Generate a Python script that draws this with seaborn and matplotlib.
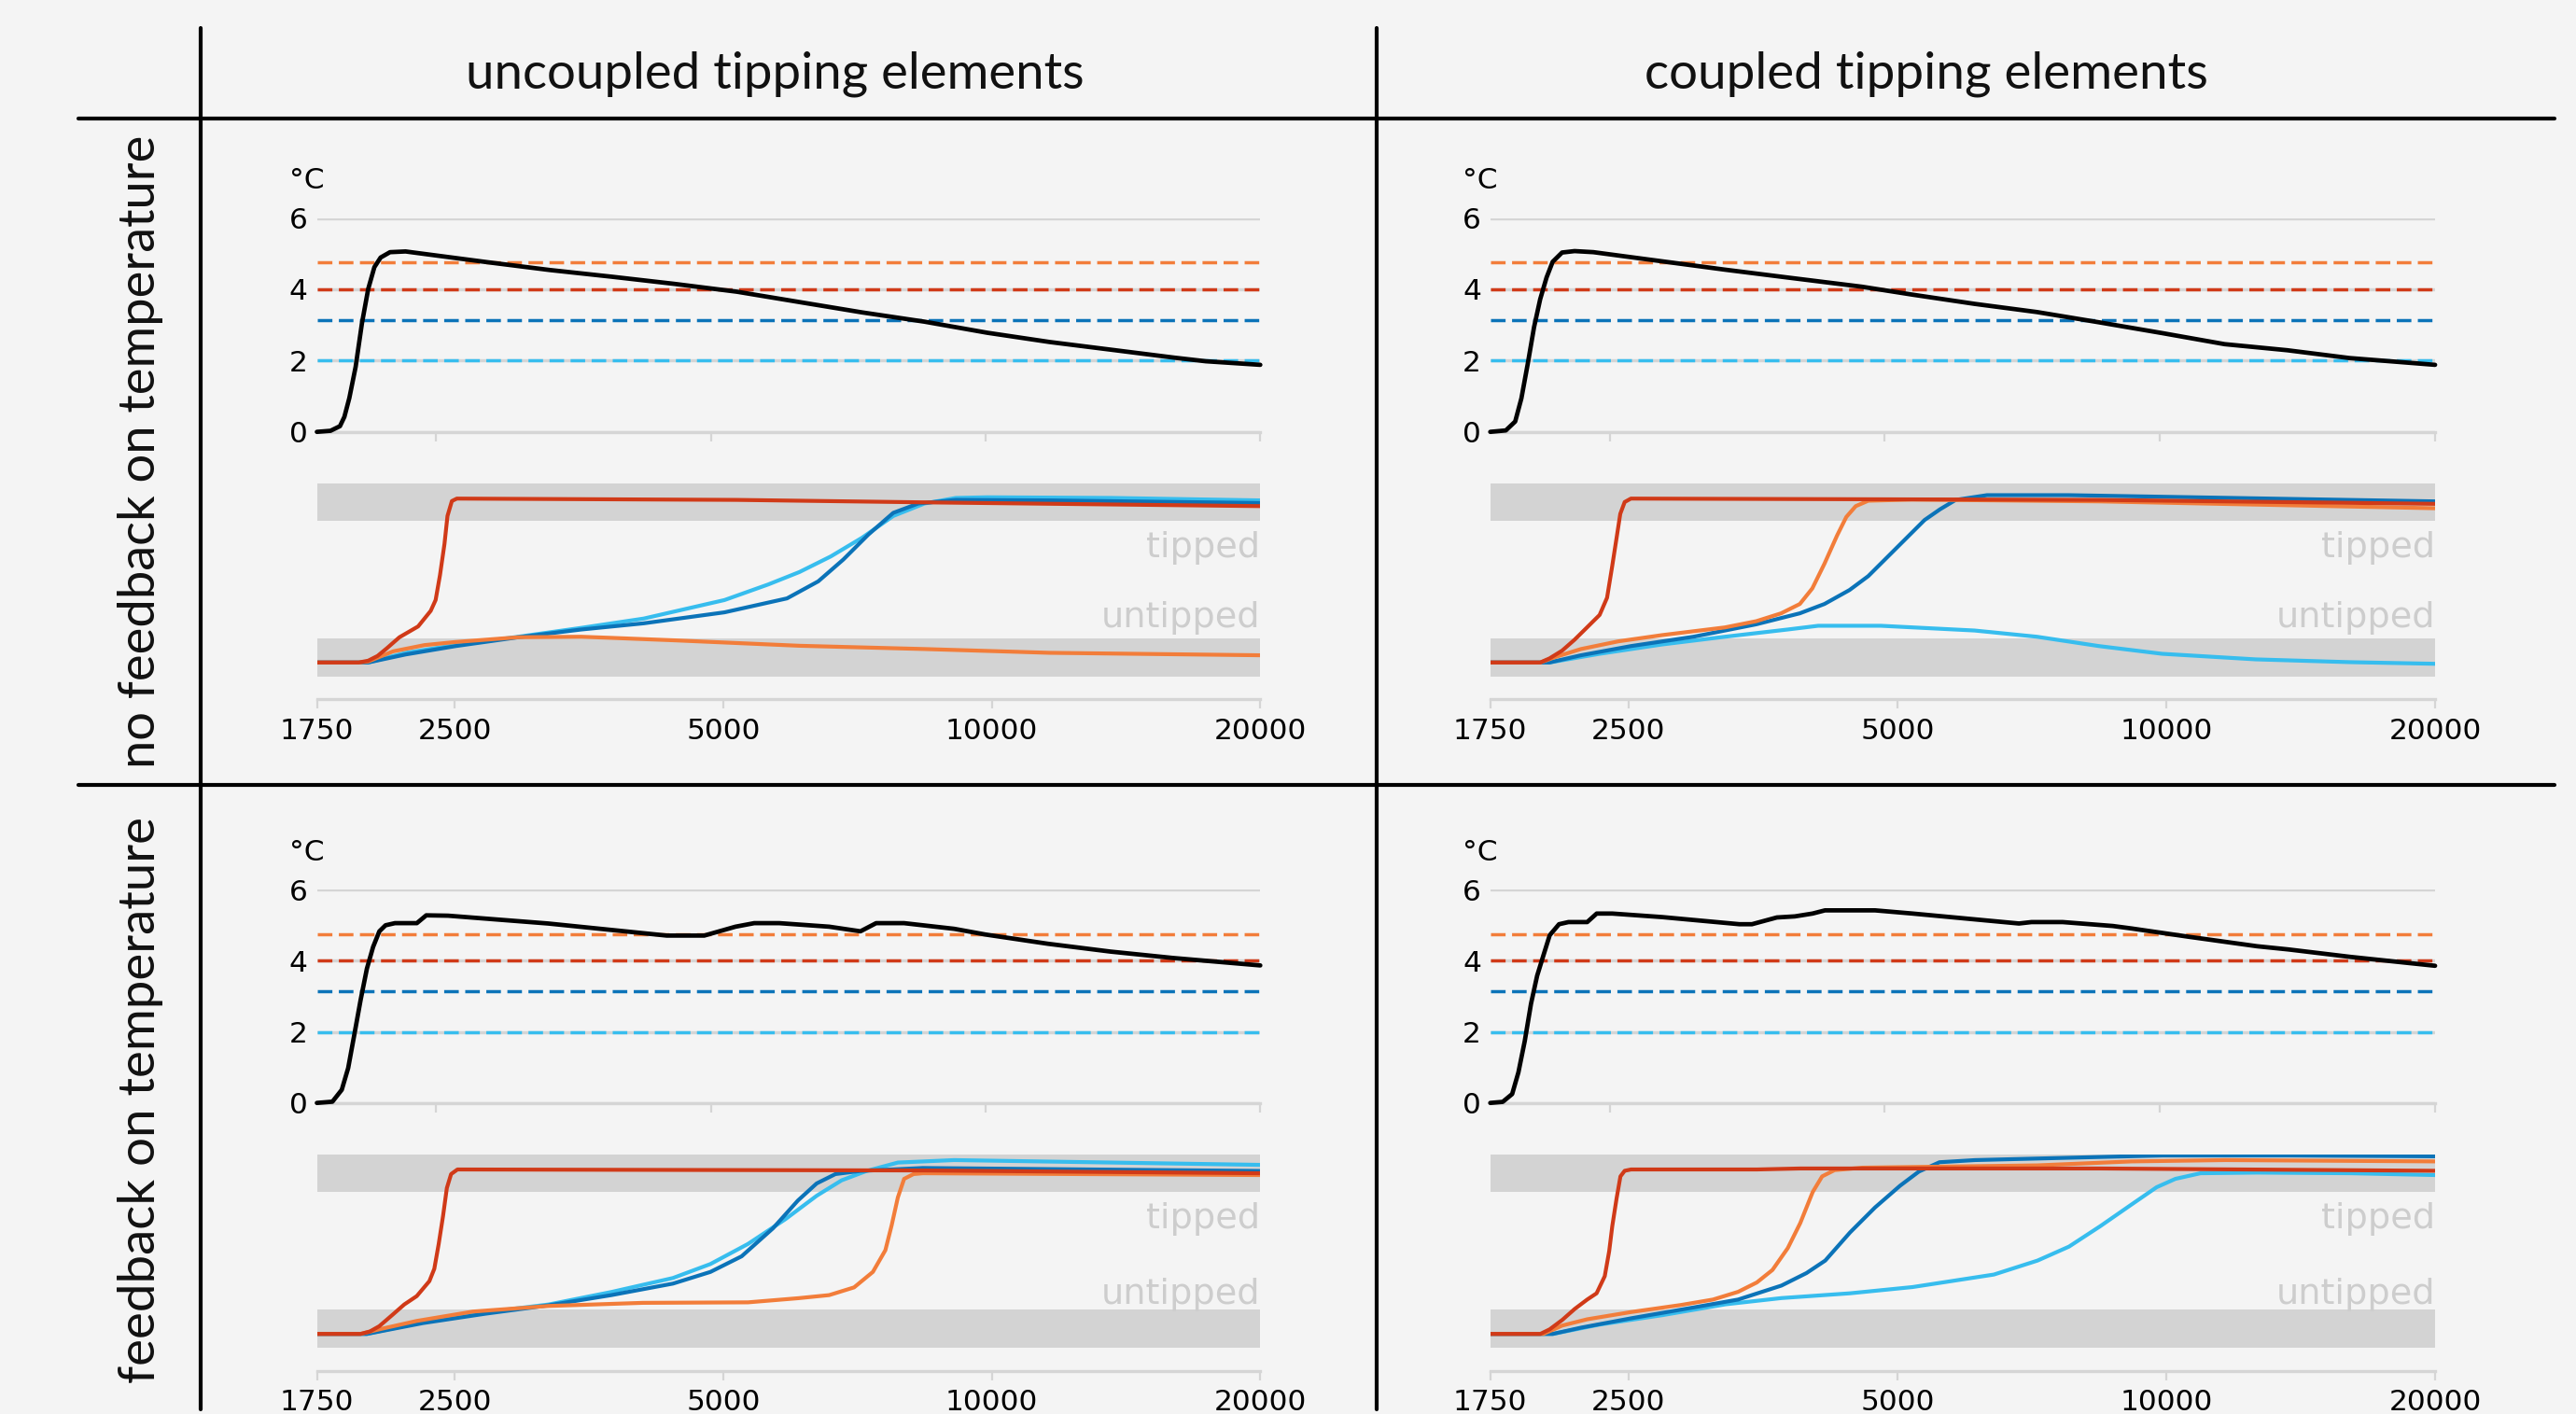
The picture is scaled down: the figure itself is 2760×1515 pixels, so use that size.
import matplotlib
matplotlib.use("Agg")
import matplotlib.pyplot as plt
import numpy as np
import pandas as pd
import seaborn as sns
from matplotlib.lines import Line2D

# ---------------------------------------------------------------- data
THRESHOLDS = [4.75, 4.0, 3.14, 2.0]          # orange, red, dark blue, light blue
THRESH_KEYS = ["orange", "red", "dark blue", "light blue"]

COL_TITLES = ["uncoupled tipping elements", "coupled tipping elements"]
ROW_TITLES = ["no feedback on temperature", "feedback on temperature"]
TIP_TICKS = [1750, 2500, 5000, 10000, 20000]
TIP_TICK_LABELS = ["1750", "2500", "5000", "10000", "20000"]
TEMP_TICKS = [0, 2, 4, 6]

# temperature, no feedback, uncoupled
T_NU_YEAR = [1850, 1915, 1961, 1983, 2008, 2040, 2073, 2106, 2139, 2173, 2225, 2314, 2427, 2842,
             3328, 3898, 4562, 5341, 6253, 7324, 8573, 10040, 11754, 13765, 16110, 17430, 20000]
T_NU_VAL = [0, 0.03, 0.16, 0.42, 0.95, 1.82, 3.05, 4.01, 4.62, 4.89, 5.04, 5.06, 4.99, 4.76,
            4.54, 4.35, 4.15, 3.93, 3.64, 3.35, 3.09, 2.78, 2.52, 2.30, 2.08, 1.98, 1.88]
# temperature, no feedback, coupled
T_NC_YEAR = [1850, 1924, 1970, 2001, 2033, 2066, 2098, 2132, 2165, 2217, 2288, 2399, 2636, 3340,
             3910, 4721, 5355, 6268, 7336, 8588, 10055, 11767, 13774, 16120, 20000]
T_NC_VAL = [0, 0.04, 0.29, 0.94, 1.9, 2.94, 3.72, 4.33, 4.77, 5.03, 5.07, 5.04, 4.9, 4.55,
            4.33, 4.07, 3.85, 3.59, 3.36, 3.07, 2.77, 2.46, 2.29, 2.07, 1.88]
# temperature, feedback, uncoupled
T_FU_YEAR = [1850, 1924, 1970, 2002, 2034, 2066, 2099, 2132, 2166, 2200, 2253, 2381, 2438, 2576,
             3316, 4473, 4917, 5320, 5578, 5941, 6740, 7292, 7587, 8140, 9240, 9996, 11700,
             13700, 16040, 20000]
T_FU_VAL = [0, 0.035, 0.37, 0.98, 1.94, 2.9, 3.78, 4.39, 4.83, 5.0, 5.06, 5.06, 5.28, 5.27,
            5.05, 4.71, 4.71, 4.96, 5.06, 5.06, 4.96, 4.83, 5.06, 5.06, 4.9, 4.74, 4.48,
            4.26, 4.08, 3.87]
# temperature, feedback, coupled
T_FC_YEAR = [1850, 1909, 1955, 1986, 2018, 2050, 2082, 2115, 2149, 2200, 2253, 2362, 2419, 2516,
             2854, 3466, 3577, 3809, 3985, 4167, 4300, 4878, 5362, 7010, 7235, 7826, 8880,
             9310, 10730, 12770, 13820, 16160, 20000]
T_FC_VAL = [0, 0.03, 0.25, 0.86, 1.74, 2.79, 3.58, 4.15, 4.72, 5.03, 5.09, 5.09, 5.33, 5.33,
            5.23, 5.03, 5.03, 5.22, 5.25, 5.33, 5.42, 5.42, 5.33, 5.05, 5.09, 5.09, 4.98,
            4.91, 4.68, 4.41, 4.32, 4.11, 3.86]

# tipping state (0 = untipped, 1 = tipped) -- no feedback, uncoupled
NU_RED_YEAR = [1750, 1950, 1998, 2047, 2097, 2166, 2273, 2348, 2378, 2405, 2433, 2452, 2480, 2512, 5178, 8404, 20000]
NU_RED_VAL = [0, 0, 0.011, 0.04, 0.087, 0.154, 0.22, 0.315, 0.381, 0.533, 0.723, 0.894, 0.985, 1.0, 0.992, 0.977, 0.954]
NU_LBLUE_YEAR = [1750, 1998, 2201, 2504, 2944, 3462, 4070, 5014, 5613, 6085, 6597, 7152, 7753, 8404, 9111, 9878, 13642, 20000]
NU_LBLUE_VAL = [0, 0, 0.059, 0.106, 0.157, 0.211, 0.268, 0.381, 0.476, 0.552, 0.647, 0.761, 0.894, 0.97, 1.004, 1.008, 1.004, 0.989]
NU_DBLUE_YEAR = [1750, 1998, 2201, 2504, 2944, 3462, 4070, 5014, 5892, 6387, 6814, 7268, 7753, 8270, 9111, 11608, 20000]
NU_DBLUE_VAL = [0, 0, 0.049, 0.1, 0.154, 0.201, 0.239, 0.306, 0.391, 0.495, 0.628, 0.78, 0.913, 0.97, 0.992, 0.989, 0.973]
NU_ORANGE_YEAR = [1750, 1950, 1998, 2131, 2310, 2504, 2944, 3462, 3754, 4414, 6085, 8404, 11608, 20000]
NU_ORANGE_VAL = [0, 0, 0.006, 0.068, 0.106, 0.125, 0.154, 0.157, 0.15, 0.135, 0.102, 0.082, 0.059, 0.044]

# no feedback, coupled
NC_RED_YEAR = [1750, 1991, 2039, 2106, 2175, 2246, 2320, 2365, 2396, 2423, 2447, 2475, 2515, 8410, 20000]
NC_RED_VAL = [0, 0, 0.025, 0.072, 0.139, 0.214, 0.29, 0.395, 0.584, 0.755, 0.907, 0.979, 1.0, 0.992, 0.968]
NC_ORANGE_YEAR = [1750, 1991, 2072, 2211, 2435, 2726, 3205, 3475, 3705, 3888, 4015, 4143, 4279, 4383, 4491, 4638, 5192, 8410, 20000]
NC_ORANGE_VAL = [0, 0, 0.034, 0.082, 0.129, 0.167, 0.214, 0.252, 0.3, 0.357, 0.452, 0.603, 0.774, 0.888, 0.954, 0.987, 0.994, 0.983, 0.941]
NC_DBLUE_YEAR = [1750, 2039, 2211, 2515, 2955, 3475, 3888, 4143, 4419, 4638, 4868, 5109, 5362, 5582, 5811, 6300, 7768, 20000]
NC_DBLUE_VAL = [0, 0, 0.044, 0.1, 0.157, 0.233, 0.3, 0.357, 0.442, 0.527, 0.641, 0.755, 0.869, 0.935, 0.992, 1.021, 1.021, 0.983]
NC_LBLUE_YEAR = [1750, 2039, 2320, 2726, 3205, 3765, 4077, 4790, 6101, 7166, 8410, 9893, 12596, 16044, 20000]
NC_LBLUE_VAL = [0, 0, 0.053, 0.11, 0.157, 0.201, 0.224, 0.224, 0.195, 0.157, 0.1, 0.053, 0.019, 0.002, -0.008]

# feedback, uncoupled
FU_RED_YEAR = [1750, 1959, 2007, 2056, 2124, 2193, 2265, 2340, 2370, 2397, 2424, 2448, 2475, 2516, 8369, 20000]
FU_RED_VAL = [0, 0, 0.015, 0.047, 0.113, 0.179, 0.23, 0.321, 0.396, 0.547, 0.717, 0.887, 0.972, 1.0, 0.994, 0.977]
FU_ORANGE_YEAR = [1750, 1959, 2056, 2265, 2619, 3184, 4060, 5327, 6060, 6570, 7007, 7355, 7596, 7720, 7845, 7973, 8169, 8369, 20000]
FU_ORANGE_VAL = [0, 0, 0.028, 0.079, 0.136, 0.17, 0.189, 0.192, 0.217, 0.236, 0.283, 0.377, 0.509, 0.66, 0.83, 0.943, 0.972, 0.977, 0.966]
FU_DBLUE_YEAR = [1750, 1991, 2302, 2705, 3184, 3744, 4389, 4835, 5241, 5682, 6060, 6361, 6677, 7122, 8369, 20000]
FU_DBLUE_VAL = [0, 0, 0.066, 0.123, 0.174, 0.236, 0.306, 0.377, 0.472, 0.642, 0.811, 0.915, 0.972, 0.991, 1.009, 0.991]
FU_LBLUE_YEAR = [1750, 1991, 2302, 2705, 3184, 3744, 4389, 4835, 5327, 5869, 6361, 6785, 7237, 7845, 9072, 20000]
FU_LBLUE_VAL = [0, 0, 0.072, 0.132, 0.179, 0.255, 0.34, 0.425, 0.547, 0.698, 0.84, 0.934, 0.991, 1.042, 1.057, 1.028]

# feedback, coupled
FC_RED_YEAR = [1750, 1991, 2040, 2107, 2176, 2247, 2302, 2351, 2378, 2397, 2424, 2448, 2475, 2516, 3480, 3892, 8435, 20000]
FC_RED_VAL = [0, 0, 0.028, 0.085, 0.152, 0.209, 0.247, 0.351, 0.503, 0.655, 0.825, 0.958, 0.992, 1.0, 1.0, 1.006, 1.006, 0.992]
FC_ORANGE_YEAR = [1750, 2007, 2107, 2247, 2516, 2862, 3108, 3316, 3480, 3623, 3769, 3892, 4019, 4118, 4252, 4570, 7176, 9144, 11651, 20000]
FC_ORANGE_VAL = [0, 0, 0.051, 0.089, 0.133, 0.176, 0.209, 0.256, 0.313, 0.389, 0.522, 0.674, 0.863, 0.958, 0.996, 1.011, 1.025, 1.049, 1.057, 1.049]
FC_DBLUE_YEAR = [1750, 2056, 2211, 2516, 2956, 3316, 3708, 3955, 4151, 4425, 4720, 5034, 5284, 5573, 6109, 8435, 9914, 13691, 20000]
FC_DBLUE_VAL = [0, 0, 0.038, 0.095, 0.161, 0.209, 0.294, 0.37, 0.446, 0.617, 0.769, 0.901, 0.987, 1.044, 1.057, 1.076, 1.085, 1.085, 1.08]
FC_LBLUE_YEAR = [1750, 2056, 2321, 2727, 3210, 3708, 4425, 5200, 5618, 6412, 7176, 7783, 8435, 9144, 9755, 10240, 10924, 12631, 16090, 20000]
FC_LBLUE_VAL = [0, 0, 0.057, 0.114, 0.18, 0.218, 0.247, 0.285, 0.313, 0.361, 0.446, 0.531, 0.655, 0.787, 0.892, 0.943, 0.977, 0.981, 0.977, 0.966]

BAND_UNTIPPED = (-0.084, 0.148)
BAND_TIPPED = (0.863, 1.093)

# ---------------------------------------------------------------- style
sns.set_theme(style="white")
plt.rcParams["font.family"] = ["DejaVu Sans"]

BG = "#f4f4f4"
COLORS = {"orange": "#f27d3a", "red": "#d03a18", "dark blue": "#0b73b8", "light blue": "#37bdee"}
GRID = "#d5d5d5"
BAND = "#d3d3d3"
LABEL_GREY = "#cdcdcd"
TICK_FS = 22.5
W, H = 2760, 1515

fig = plt.figure(figsize=(W / 100, H / 100), dpi=100, facecolor=BG)


def rect(x0, x1, ytop, ybot):
    return [x0 / W, 1 - ybot / H, (x1 - x0) / W, (ybot - ytop) / H]


COLS = [(339.5, 1350.3), (1596.7, 2609.0)]
TEMP_ROWS = [(233.5, 462.7), (953.3, 1181.7)]
TIP_ROWS = [(534.2, 709.8), (1253.0, 1429.2)]
YLIM_TIP = (-0.225, 1.093)
UNTIPPED_LABEL_Y = [0.215, 0.18]
TIPPED_LABEL_Y = [0.645, 0.645]
TICK_PAD = [7, 7]

temps = {
    (0, 0): (T_NU_YEAR, T_NU_VAL), (0, 1): (T_NC_YEAR, T_NC_VAL),
    (1, 0): (T_FU_YEAR, T_FU_VAL), (1, 1): (T_FC_YEAR, T_FC_VAL),
}
tips = {
    (0, 0): {"light blue": (NU_LBLUE_YEAR, NU_LBLUE_VAL), "dark blue": (NU_DBLUE_YEAR, NU_DBLUE_VAL),
             "orange": (NU_ORANGE_YEAR, NU_ORANGE_VAL), "red": (NU_RED_YEAR, NU_RED_VAL)},
    (0, 1): {"light blue": (NC_LBLUE_YEAR, NC_LBLUE_VAL), "dark blue": (NC_DBLUE_YEAR, NC_DBLUE_VAL),
             "orange": (NC_ORANGE_YEAR, NC_ORANGE_VAL), "red": (NC_RED_YEAR, NC_RED_VAL)},
    (1, 0): {"light blue": (FU_LBLUE_YEAR, FU_LBLUE_VAL), "dark blue": (FU_DBLUE_YEAR, FU_DBLUE_VAL),
             "orange": (FU_ORANGE_YEAR, FU_ORANGE_VAL), "red": (FU_RED_YEAR, FU_RED_VAL)},
    (1, 1): {"light blue": (FC_LBLUE_YEAR, FC_LBLUE_VAL), "dark blue": (FC_DBLUE_YEAR, FC_DBLUE_VAL),
             "orange": (FC_ORANGE_YEAR, FC_ORANGE_VAL), "red": (FC_RED_YEAR, FC_RED_VAL)},
}
DRAW_ORDER = ["light blue", "dark blue", "orange", "red"]

for r in range(2):
    for c in range(2):
        x0, x1 = COLS[c]
        # ---------------- temperature panel
        yt, yb = TEMP_ROWS[r]
        ax = fig.add_axes(rect(x0, x1, yt, yb))
        ax.set_facecolor("none")
        yrs, vals = temps[(r, c)]
        for key, th in zip(THRESH_KEYS, THRESHOLDS):
            ax.axhline(th, color=COLORS[key], lw=2.5, ls=(0, (4.5, 2.0)), zorder=2)
        sns.lineplot(x=yrs, y=vals, ax=ax, color="black", lw=3.4, estimator=None, sort=False,
                     zorder=3, clip_on=False)
        ax.set_xscale("log")
        ax.set_xlim(1850, 20000)
        ax.set_ylim(0, 6)
        ax.set_xticks([2500, 5000, 10000, 20000])
        ax.set_xticks([], minor=True)
        ax.set_xticklabels([])
        ax.set_yticks(TEMP_TICKS)
        ax.set_yticklabels([str(t) for t in TEMP_TICKS])
        ax.yaxis.grid(True, color=GRID, lw=2.4, zorder=0)
        ax.xaxis.grid(False)
        ax.set_axisbelow(True)
        for s in ["left", "top", "right"]:
            ax.spines[s].set_visible(False)
        ax.spines["bottom"].set_color(GRID)
        ax.spines["bottom"].set_linewidth(2.4)
        ax.tick_params(axis="x", which="major", direction="out", length=7, width=1.6, color=GRID,
                       labelbottom=False, bottom=True)
        ax.tick_params(axis="y", length=0, pad=7, labelsize=TICK_FS, labelcolor="black")
        ax.set_xlabel("")
        ax.set_ylabel("")
        ax.text(-0.029, 1 + 40 / (yb - yt), "°C", transform=ax.transAxes, ha="left", va="center",
                fontsize=TICK_FS, color="black")

        # ---------------- tipping panel
        s1, s0 = TIP_ROWS[r]
        p = s0 - s1
        axt = fig.add_axes(rect(x0, x1, s0 - YLIM_TIP[1] * p, s0 - YLIM_TIP[0] * p))
        axt.set_facecolor("none")
        axt.axhspan(*BAND_UNTIPPED, color=BAND, lw=0, zorder=0)
        axt.axhspan(*BAND_TIPPED, color=BAND, lw=0, zorder=0)
        rows = []
        for key in DRAW_ORDER:
            yy, vv = tips[(r, c)][key]
            rows += [(y, v, key) for y, v in zip(yy, vv)]
        df = pd.DataFrame(rows, columns=["year", "state", "element"])
        sns.lineplot(data=df, x="year", y="state", hue="element", hue_order=DRAW_ORDER,
                     palette=COLORS, ax=axt, lw=3.0, estimator=None, sort=False, legend=False,
                     units="element")
        axt.set_xscale("log")
        axt.set_xlim(1750, 20000)
        axt.set_ylim(*YLIM_TIP)
        axt.set_xticks(TIP_TICKS)
        axt.set_xticks([], minor=True)
        axt.set_xticklabels(TIP_TICK_LABELS)
        axt.set_yticks([])
        for s in ["left", "top", "right"]:
            axt.spines[s].set_visible(False)
        axt.spines["bottom"].set_color(GRID)
        axt.spines["bottom"].set_linewidth(2.4)
        axt.tick_params(axis="x", direction="out", length=7, width=1.6, color=GRID,
                        pad=TICK_PAD[r], labelsize=TICK_FS, labelcolor="black", bottom=True)
        axt.set_xlabel("")
        axt.set_ylabel("")
        axt.text(20000, TIPPED_LABEL_Y[r], "tipped", ha="right", va="baseline",
                 fontsize=27.5, color=LABEL_GREY, zorder=1)
        axt.text(20000, UNTIPPED_LABEL_Y[r], "untipped", ha="right", va="baseline",
                 fontsize=27.5, color=LABEL_GREY, zorder=1)

# ---------------------------------------------------------------- frame lines
def fline(xs, ys):
    fig.add_artist(Line2D([x / W for x in xs], [1 - y / H for y in ys], color="black", lw=3.0,
                          transform=fig.transFigure))

fline([215, 215], [30, 1510])
fline([1475, 1475], [30, 1510])
fline([84, 2737], [127, 127])
fline([84, 2737], [841, 841])

# ---------------------------------------------------------------- headers
renderer = fig.canvas.get_renderer()
title_x = [830, 2064]
title_w = [663, 604]
for txt, x, w in zip(COL_TITLES, title_x, title_w):
    t = fig.text(x / W, 1 - 95 / H, txt, ha="center", va="baseline", fontsize=38,
                 family=["Lato", "DejaVu Sans"], fontweight="normal", color="#111111")
    bb = t.get_window_extent(renderer)
    t.set_fontsize(38 * w / bb.width)

row_y = [484, 1178]
row_len = [678, 607]
for txt, y, L in zip(ROW_TITLES, row_y, row_len):
    t = fig.text(151 / W, 1 - y / H, txt, ha="center", va="center", rotation=90, fontsize=36,
                 family=["Lato", "DejaVu Sans"], fontweight="normal", color="#111111")
    bb = t.get_window_extent(renderer)
    t.set_fontsize(36 * L / bb.height)

fig.savefig("out.png", dpi=100, facecolor=BG)
